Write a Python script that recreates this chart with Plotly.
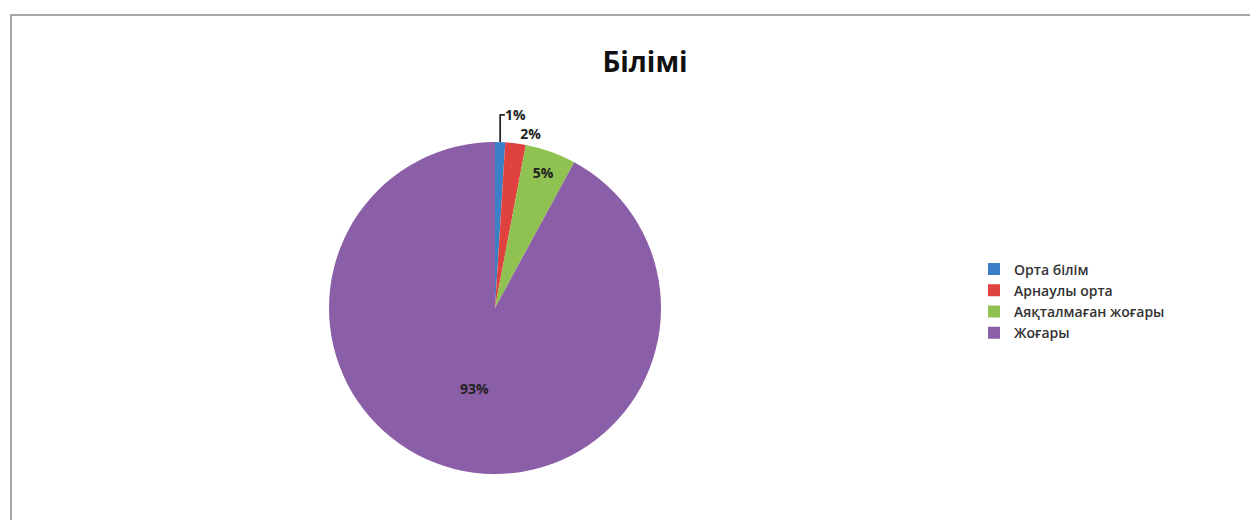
import plotly.graph_objects as go

categories = ["Орта білім", "Арнаулы орта", "Аяқталмаған жоғары", "Жоғары"]
values = [1, 2, 5, 93]
colors = ["#3b7fc6", "#e0433f", "#8fc250", "#8b5fa7"]
text_pos = ["outside", "outside", "inside", "inside"]

W, H = 1258, 520
OFF = 8  # page body margin
cx, cy, r = 495 - OFF, 308 - OFF, 166

fig = go.Figure(go.Pie(
    labels=categories,
    values=values,
    sort=False,
    direction="clockwise",
    rotation=0,
    marker=dict(colors=colors, line=dict(width=0)),
    texttemplate="<b>%{value}%</b>",
    textposition=text_pos,
    insidetextorientation="horizontal",
    textfont=dict(family="Open Sans", size=14, color="#222222"),
    outsidetextfont=dict(family="Open Sans", size=14, color="#222222"),
    domain=dict(x=[(cx - r) / W, (cx + r) / W], y=[(H - cy - r) / H, (H - cy + r) / H]),
    hoverinfo="label+percent",
))

fig.update_layout(
    width=W, height=H,
    margin=dict(l=0, r=0, t=0, b=0),
    paper_bgcolor="white",
    title=dict(text="<b>Білімі</b>", x=(645 - OFF) / W, xanchor="center", y=1 - (62 - OFF) / H, yanchor="middle",
               font=dict(family="Open Sans", size=28, color="#111111")),
    legend=dict(x=(974 - OFF) / W, y=1 - (301 - OFF) / H, xanchor="left", yanchor="middle",
                font=dict(family="Open Sans", size=14, color="#333333", weight=600),
                bgcolor="rgba(0,0,0,0)"),
    shapes=[dict(type="rect", xref="paper", yref="paper",
                 x0=(11 - OFF) / W, x1=1.02, y0=-0.05, y1=1 - (15 - OFF) / H,
                 line=dict(color="#a6a6a6", width=2))],
)

fig.write_html("out.html")
